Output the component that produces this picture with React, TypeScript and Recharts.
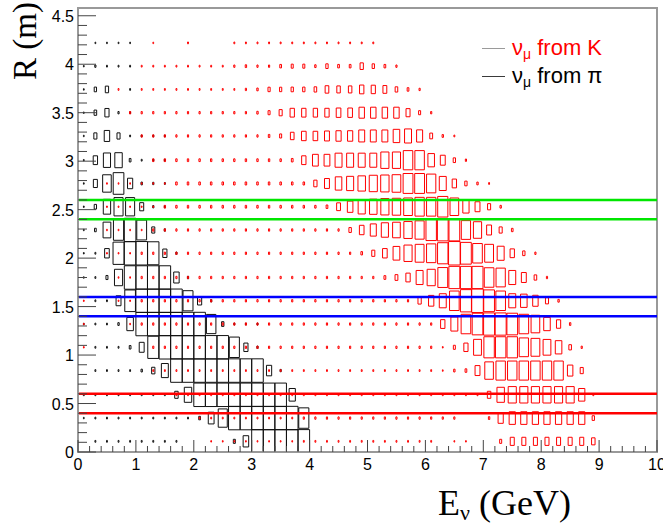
import React from "react";
import { ComposedChart, XAxis, YAxis, Line, ReferenceArea, ReferenceLine } from "recharts";

// Energy binning: 50 bins of 0.2 GeV between 0 and 10 GeV
const E_BIN = 0.2;
// Radius bins (m): centres, bottom to top, and bin height
const R_CENTERS = [0.11, 0.35, 0.59, 0.84, 1.08, 1.32, 1.56, 1.8, 2.05, 2.29, 2.53, 2.77, 3.01, 3.26, 3.5, 3.74, 3.98, 4.22];
const R_BIN = 0.242;
const Z_MAX = 100;

const E_MAX = 10;
const R_MAX = 4.58;
const X_LABELS = [0, 1, 2, 3, 4, 5, 6, 7, 8, 9, 10];
const Y_LABELS = [0, 0.5, 1, 1.5, 2, 2.5, 3, 3.5, 4, 4.5];

// radial windows
const CUT_GREEN = [2.4, 2.6];
const CUT_BLUE = [1.4, 1.6];
const CUT_RED = [0.4, 0.6];

// Each radius row: [first energy bin, bin contents...]
const NU_FROM_PI: [number, number[]][] = [
  [1, [0.6, 0.6, 0.6, 0.6, 0.6, 0.6, 0.6, 0.6, 0, 0, 0, 0, 3, 23, 100, 100, 100, 100, 100]],
  [0, [0.4, 0.6, 0.6, 0.6, 0.6, 0.6, 0.6, 0.6, 0.6, 0.6, 2.2, 25, 61, 100, 100, 100, 100, 100, 100, 76]],
  [0, [0.6, 0.6, 0.6, 0.6, 0.6, 0.6, 0.6, 0.6, 9, 41, 100, 100, 100, 100, 100, 100, 100, 100, 29]],
  [1, [0.6, 0.6, 0.6, 0.6, 1.4, 8, 36, 100, 100, 100, 100, 100, 100, 100, 100, 20, 1]],
  [1, [0.6, 0.6, 0.6, 2.2, 18, 90, 100, 100, 100, 100, 100, 100, 76, 13, 1]],
  [0, [0.4, 0.6, 0.6, 1.4, 32, 100, 100, 100, 100, 100, 100, 67, 4, 0.6, 0.6, 0.6]],
  [1, [0.6, 0.6, 18, 85, 100, 100, 100, 100, 74, 13, 1]],
  [0, [0.4, 0.6, 3, 49, 100, 100, 100, 100, 22, 1]],
  [0, [0.4, 0.6, 16, 90, 100, 100, 96, 13, 1]],
  [0, [0.4, 2.2, 45, 77, 100, 72, 7, 1]],
  [0, [0.4, 4, 40, 61, 61, 12, 1, 0.6]],
  [0, [0.4, 12, 55, 85, 20, 1.4, 1, 0.6]],
  [0, [0.4, 14, 38, 41, 2.2, 0.6, 0.6, 0.6]],
  [0, [0.4, 7, 22, 7, 0.6, 0.6, 0.6, 0.6]],
  [0, [0.4, 5, 13, 1, 0.6]],
  [0, [0.4, 4, 8, 0, 0.6]],
  [0, [0.4, 1, 0.6, 0.6, 0.6]],
  [1, [0.4, 0.4, 0.4, 0.4]],
];

const NU_FROM_K: [number, number[]][] = [
  [11, [0.4, 0.4, 0.4, 0.4, 0.4, 0.4, 0.4, 0.4, 0.6, 0.6, 0.6, 0.6, 0.6, 0.6, 0.6, 0.6, 0.6, 0.6, 0.6, 0.6,
    0, 0.4, 0.4, 0, 0, 3, 12, 12, 12, 12, 12, 12, 12, 9]],
  [10, [0.6, 0.6, 0.6, 0.6, 0.6, 0.6, 0.6, 0.6, 0.6, 1, 1, 1, 1, 1, 1, 1, 1, 1, 1, 1, 1, 1, 1,
    0, 0, 1.4, 20, 29, 29, 29, 29, 29, 29, 29, 4]],
  [8, [0.6, 0.6, 0.6, 0.6, 0.6, 0.6, 0.6, 0.6, 0.6, 0.6, 0.6, 0.6, 0.6, 0.6, 0.6, 0.6, 0.6, 0.6, 0.6, 0.6,
    0.6, 0.6, 0.6, 0.6, 0.6, 0.6, 0.6, 9, 41, 49, 49, 49, 49, 49, 49, 29, 0.6]],
  [6, [0.6, 0.6, 0.6, 0.6, 0.6, 0.6, 0.6, 0.6, 0.6, 0.6, 0.6, 0.6, 0.6, 0.6, 0.6, 0.6, 0.6, 0.6, 0.6, 0.6,
    0.6, 0.6, 0.6, 0.6, 0.6, 0.4, 1.4, 2.2, 18, 55, 66, 66, 66, 66, 66, 66, 22, 7]],
  [0, [0.4, 0, 0, 0, 0, 0, 1, 1, 1, 1, 1, 1, 1, 1, 1, 1, 1, 1, 1, 1, 1, 1, 1, 1, 1, 1, 1, 1, 1, 1, 1,
    0.4, 3, 13, 46, 81, 81, 81, 64, 58, 45, 32, 5, 1]],
  [0, [0.4, 0, 0, 0, 0.4, 1, 1, 1, 1, 1, 1, 1, 1, 1, 1, 1, 1, 1, 1, 1, 1, 1, 1, 1, 1, 1, 1, 1, 1, 1, 1,
    14, 36, 69, 85, 90, 90, 85, 69, 56, 32, 13, 1.4]],
  [0, [0.4, 0, 0, 0.4, 0.4, 1, 1, 1, 1, 1, 1, 1, 1, 1, 1, 1, 1, 1, 1, 1, 1, 1, 1, 1, 1, 1, 1, 1, 1,
    8, 21, 36, 69, 90, 100, 86, 69, 36, 32, 22, 7, 1.4]],
  [3, [0.4, 0.4, 1, 1, 1, 1, 1, 1, 1, 1, 1, 1, 1, 1, 1, 1, 1, 1, 1, 1, 1, 1, 1,
    2.5, 6, 14, 36, 49, 72, 90, 90, 90, 69, 64, 36, 18, 5, 1]],
  [2, [0.4, 0.4, 0.4, 1, 1, 1, 1, 1, 1, 1, 1, 1, 1, 1, 1, 1, 1, 1, 1, 1, 1, 1,
    2, 7, 16, 34, 49, 58, 64, 81, 100, 86, 69, 58, 36, 14, 4, 1]],
  [2, [0.4, 0.4, 0.4, 0.4, 1, 1, 1, 1, 1, 1, 1, 1, 1, 1, 1, 1, 1, 1, 1, 1, 1,
    4.4, 16, 27, 38, 44, 52, 61, 81, 86, 86, 64, 50, 18, 7, 2]],
  [2, [0.4, 0.4, 0.4, 0.4, 0.4, 1.4, 1.4, 1.4, 1.4, 1.4, 1.4, 1.4, 1.4, 1.4, 1.4, 1.4, 1.4, 1.4, 1.4,
    2.2, 11, 23, 38, 42, 49, 52, 56, 64, 64, 77, 56, 29, 18, 7, 1.4]],
  [2, [0.4, 0.4, 0.4, 0.4, 0.4, 0.4, 1.7, 1.7, 1.7, 1.7, 1.7, 1.7, 1.7, 1.7, 1.7, 1.7, 1.7, 1.7,
    8, 18, 32, 37, 42, 49, 52, 56, 72, 72, 64, 36, 14, 4, 1.4, 0.6]],
  [6, [1.4, 1.4, 1.4, 1.4, 1.4, 1.4, 1.4, 1.4, 1.4, 1.4, 1.4, 1.4,
    2.2, 14, 25, 25, 36, 36, 36, 36, 49, 49, 67, 67, 32, 18, 4, 1]],
  [5, [1, 1, 1, 1, 1, 1, 1, 1, 1, 1, 1,
    1.7, 3, 10, 16, 16, 18, 20, 20, 26, 26, 26, 32, 36, 27, 6, 1.4, 0.6]],
  [4, [1, 1, 1, 1, 1, 1, 1, 1, 1, 1, 1,
    1.4, 3, 7, 14, 14, 14, 14, 16, 16, 22, 22, 22, 22, 12, 3, 1]],
  [3, [0.6, 0, 0.6, 0.6, 0.6, 0.6, 0.6, 0.6, 0.6, 0.6, 0.6,
    1, 1.4, 3.6, 3.6, 4, 4, 5, 10, 9, 9, 14, 13, 11, 5, 2.2, 1]],
  [5, [0.6, 0.6, 0.6, 0.6, 0.6, 0.6, 0.6, 0.6,
    1, 1.4, 1, 1, 2.2, 3, 3, 1.4, 4, 2.2, 2.2, 8, 4, 2.2, 1]],
  [6, [0.4, 0, 0, 0.6, 0, 0, 0, 0.6, 0.6, 0.6, 0.6, 0.6, 0.6, 0.6, 0.6, 0.6, 0.6, 0.6, 0.6, 0.6]],
];

const LEGEND = [
  { text: "from K", color: "#ff0000", line: "#9a9a9a" },
  { text: "from π", color: "#000000", line: "#3a3a3a" },
];

const xTicks = Array.from({ length: 51 }, (_, i) => i / 5);
const yTicks = Array.from({ length: 46 }, (_, i) => i / 10);

const SANS = "'Liberation Sans', Arial, sans-serif";
const SERIF = "'Liberation Serif', 'Times New Roman', serif";

type Pt = { e: number; r: number | null };

// ROOT-style "BOX" outlines: side scales with sqrt(content / max); one closed
// polyline per cell, separated by null points so the Line breaks between boxes
function boxOutlines(rows: [number, number[]][]): Pt[] {
  const pts: Pt[] = [];
  rows.forEach(([first, vals], ri) => {
    vals.forEach((v, i) => {
      if (v <= 0) return;
      const f = Math.sqrt(v / Z_MAX);
      const ec = (first + i + 0.5) * E_BIN;
      const rc = R_CENTERS[ri];
      const hx = (f * E_BIN) / 2;
      const hy = (f * R_BIN) / 2;
      pts.push(
        { e: ec - hx, r: rc - hy },
        { e: ec + hx, r: rc - hy },
        { e: ec + hx, r: rc + hy },
        { e: ec - hx, r: rc + hy },
        { e: ec - hx, r: rc - hy },
        { e: ec, r: null }
      );
    });
  });
  return pts;
}

const piBoxes = boxOutlines(NU_FROM_PI);
const kBoxes = boxOutlines(NU_FROM_K);

function XTick(props: any) {
  const { x, y, payload } = props;
  const v = payload.value as number;
  const major = Math.abs(v - Math.round(v)) < 1e-6;
  return (
    <g>
      <line x1={x} x2={x} y1={y} y2={y - (major ? 12 : 6)} stroke="#444" strokeWidth={1} />
      {major && X_LABELS.includes(Math.round(v)) && (
        <text x={x} y={y + 18} textAnchor="middle" fontSize={16} fontFamily={SANS} fill="#000">
          {Math.round(v)}
        </text>
      )}
    </g>
  );
}

function YTick(props: any) {
  const { x, y, payload } = props;
  const v = payload.value as number;
  const major = Math.abs(v * 2 - Math.round(v * 2)) < 1e-6;
  const label = Y_LABELS.find((t) => Math.abs(t - v) < 1e-6);
  return (
    <g>
      <line x1={x} x2={x + (major ? 18 : 9)} y1={y} y2={y} stroke="#444" strokeWidth={1} />
      {major && label !== undefined && (
        <text x={x - 4} y={y + 6} textAnchor="end" fontSize={16} fontFamily={SANS} fill="#000">
          {String(label)}
        </text>
      )}
    </g>
  );
}

function XTitle(props: any) {
  const { viewBox } = props;
  return (
    <text x={viewBox.x + viewBox.width - 219} y={viewBox.y + 63} fontFamily={SERIF} fontSize={36} fill="#000">
      E
      <tspan fontSize={22} dy={5}>ν</tspan>
      <tspan dy={-5}> (GeV)</tspan>
    </text>
  );
}

function YTitle(props: any) {
  const { viewBox } = props;
  return (
    <text
      transform={`translate(${viewBox.x + viewBox.width - 42}, ${viewBox.y + 72}) rotate(-90)`}
      fontFamily={SERIF}
      fontSize={33}
      fill="#000"
    >
      R (m)
    </text>
  );
}

export default function App() {
  const cuts = [
    ...CUT_GREEN.map((r) => ({ r, color: "#00e600" })),
    ...CUT_BLUE.map((r) => ({ r, color: "#0000ff" })),
    ...CUT_RED.map((r) => ({ r, color: "#ff0000" })),
  ];

  return (
    <div style={{ position: "absolute", left: 0, top: 0, width: 663, height: 527, background: "#fff" }}>
      <ComposedChart width={663} height={527} margin={{ top: 8, right: 6, bottom: 74, left: 77 }}>
        <XAxis
          dataKey="e"
          type="number"
          domain={[0, E_MAX]}
          allowDataOverflow
          ticks={xTicks}
          interval={0}
          height={1}
          tickSize={0}
          tickMargin={0}
          tickLine={false}
          tick={<XTick />}
          axisLine={{ stroke: "#999", strokeWidth: 2 }}
          label={XTitle}
        />
        <YAxis
          type="number"
          domain={[0, R_MAX]}
          allowDataOverflow
          ticks={yTicks}
          interval={0}
          width={1}
          tickSize={0}
          tickMargin={0}
          tickLine={false}
          tick={<YTick />}
          axisLine={{ stroke: "#999", strokeWidth: 2 }}
          label={YTitle}
        />
        <ReferenceArea x1={0} x2={E_MAX} y1={0} y2={R_MAX} fill="none" fillOpacity={0} stroke="#999" strokeWidth={2} />
        <Line
          data={piBoxes}
          dataKey="r"
          type="linear"
          stroke="#111"
          strokeWidth={1}
          dot={false}
          activeDot={false}
          connectNulls={false}
          isAnimationActive={false}
        />
        <Line
          data={kBoxes}
          dataKey="r"
          type="linear"
          stroke="#ff0000"
          strokeWidth={1}
          dot={false}
          activeDot={false}
          connectNulls={false}
          isAnimationActive={false}
        />
        {cuts.map((c) => (
          <ReferenceLine key={`cut-${c.r}`} y={c.r} stroke={c.color} strokeWidth={2.5} />
        ))}
      </ComposedChart>
      <div
        style={{
          position: "absolute",
          left: 482,
          top: 34,
          fontFamily: SANS,
          fontSize: 22,
          lineHeight: "28px",
        }}
      >
        {LEGEND.map((e) => (
          <div key={e.text} style={{ display: "flex", alignItems: "center", height: 28, whiteSpace: "nowrap" }}>
            <span style={{ display: "inline-block", width: 23, borderTop: `1px solid ${e.line}`, marginRight: 7 }} />
            <span style={{ color: e.color }}>
              ν<sub style={{ fontSize: 14, lineHeight: 0, verticalAlign: "-0.25em" }}>μ</sub> {e.text}
            </span>
          </div>
        ))}
      </div>
    </div>
  );
}
